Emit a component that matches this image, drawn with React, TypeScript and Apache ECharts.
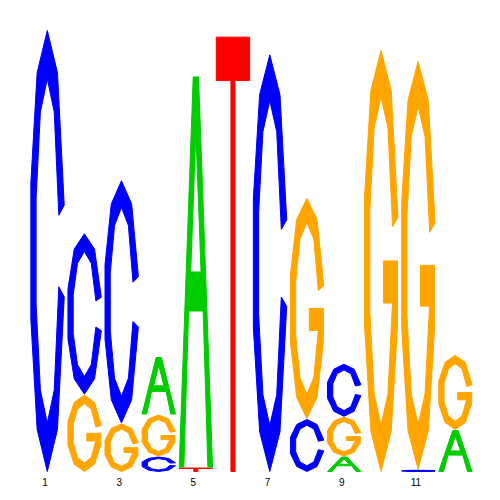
import React, { useEffect, useRef } from "react";
import * as echarts from "echarts";

// Positions of the motif
const positions = ["1", "2", "3", "4", "5", "6", "7", "8", "9", "10", "11", "12"];
// Letters and their colours
const letters = ["A", "C", "G", "T"];
const letterColors = ["#00CC00", "#0000FF", "#FFA500", "#FF0000"];
// Information content (bits) of each letter at each position
const bitsA = [0, 0, 0, 0.26, 1.77, 0, 0, 0, 0.07, 0, 0, 0.19];
const bitsC = [2.0, 0.73, 1.1, 0.07, 0, 0, 1.89, 0.24, 0.24, 0, 0.01, 0];
const bitsG = [0, 0.35, 0.22, 0.19, 0, 0, 0, 1.0, 0.18, 1.91, 1.85, 0.34];
const bitsT = [0, 0, 0, 0, 0.02, 1.97, 0, 0, 0, 0, 0, 0];

// ---- glyph outlines (100 x 100 box, y down) ----
const pt = (a: number, rx: number, ry: number) => {
  const r = (a * Math.PI) / 180;
  return [50 + rx * Math.cos(r), 50 - ry * Math.sin(r)];
};
const poly = (pts: number[][]) =>
  pts.map((p, i) => (i === 0 ? "M" : "L") + p[0].toFixed(2) + " " + p[1].toFixed(2)).join(" ") + " Z";

const OUT_RX = 50, OUT_RY = 50, IN_RX = 34, IN_RY = 39;
const cOuter = [12, 54, 90, 126, 162, 198, 234, 270, 306, 348].map((a) => pt(a, OUT_RX, OUT_RY));
const cInner = [348, 306, 270, 234, 198, 162, 126, 90, 54, 12].map((a) => pt(a, IN_RX, IN_RY));
const glyphC = poly([...cOuter, ...cInner]);

const gOuter = [12, 54, 90, 126, 162, 198, 234, 270, 306, 342].map((a) => pt(a, OUT_RX, OUT_RY));
const gRight = pt(342, OUT_RX, OUT_RY)[0];
const gBar = [
  [gRight, 50],
  [57, 50],
  [57, 60],
  [83, 60],
];
const gInner = [306, 270, 234, 198, 162, 126, 90, 54, 12].map((a) => pt(a, IN_RX, IN_RY));
const glyphG = poly([...gOuter, ...gBar, ...gInner]);

const glyphA =
  poly([
    [0, 100],
    [42, 0],
    [58, 0],
    [100, 100],
    [86, 100],
    [71.8, 60],
    [28.2, 60],
    [14, 100],
  ]) +
  " " +
  poly([
    [50, 14],
    [34.5, 50],
    [65.5, 50],
  ]);

const glyphT = poly([
  [0, 0],
  [100, 0],
  [100, 10],
  [56, 10],
  [56, 100],
  [44, 100],
  [44, 10],
  [0, 10],
]);

const glyphs = [glyphA, glyphC, glyphG, glyphT];

export default function App() {
  const ref = useRef<HTMLDivElement>(null);

  useEffect(() => {
    if (!ref.current) return;
    const chart = echarts.init(ref.current, undefined, { renderer: "svg" });

    const allBits = [bitsA, bitsC, bitsG, bitsT];
    const data: number[][] = [];
    positions.forEach((_, i) => {
      const col = letters
        .map((_, li) => ({ li, h: allBits[li][i] }))
        .filter((d) => d.h > 0)
        .sort((a, b) => a.h - b.h);
      let base = 0;
      col.forEach((d) => {
        data.push([i, base, base + d.h, d.li]);
        base += d.h;
      });
    });

    chart.setOption({
      animation: false,
      grid: { left: 29, right: 26, top: 30, bottom: 28 },
      xAxis: {
        type: "category",
        data: positions,
        boundaryGap: true,
        axisLine: { show: false },
        axisTick: { show: false },
        splitLine: { show: false },
        axisLabel: {
          interval: 1,
          fontSize: 10,
          color: "#000",
          fontFamily: "Liberation Sans, Arial, sans-serif",
          margin: 5,
          padding: [0, 5, 0, 0],
        },
      },
      yAxis: {
        type: "value",
        min: 0,
        max: 2,
        show: false,
      },
      series: [
        {
          type: "custom",
          data,
          encode: { x: 0, y: [1, 2] },
          renderItem: (params: any, api: any) => {
            const x = api.value(0);
            const y0 = api.value(1);
            const y1 = api.value(2);
            const li = api.value(3);
            const p0 = api.coord([x, y0]);
            const p1 = api.coord([x, y1]);
            const bw = api.size([1, 0])[0] * 0.9;
            return {
              type: "path",
              shape: {
                pathData: glyphs[li],
                x: p0[0] - bw / 2,
                y: p1[1] + 0.5,
                width: bw,
                height: Math.max(p0[1] - p1[1] - 1, 0.3),
                layout: "cover",
              },
              style: {
                fill: letterColors[li],
                stroke: letterColors[li],
                lineWidth: 1,
                lineJoin: "round",
              },
            };
          },
        },
      ],
    });

    return () => chart.dispose();
  }, []);

  return (
    <div
      ref={ref}
      style={{ position: "absolute", left: 0, top: 0, width: 500, height: 500 }}
    />
  );
}
